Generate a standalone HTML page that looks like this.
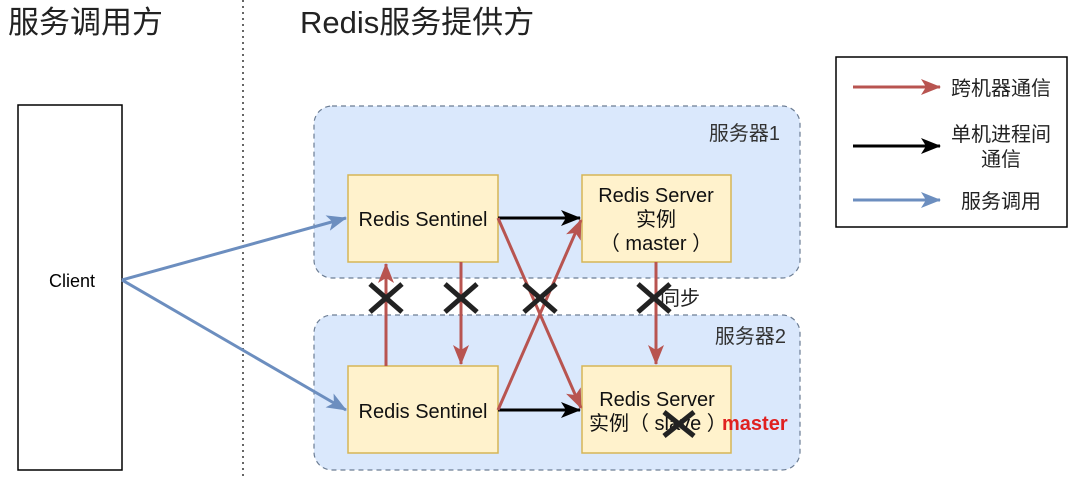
<!DOCTYPE html>
<html><head><meta charset="utf-8"><style>
body{margin:0;width:1080px;height:477px;background:#fff;overflow:hidden}
svg text{font-family:"Liberation Sans","Noto Sans CJK SC",sans-serif}
</style></head><body>
<svg width="1080" height="477" viewBox="0 0 1080 477">
<defs>
<marker id="k" markerWidth="20" markerHeight="20" refX="19" refY="10" orient="auto" markerUnits="userSpaceOnUse" viewBox="0 0 20 20"><path d="M0,2 L20,10 L0,18 L5,10z" fill="#000"/></marker>
<marker id="b" markerWidth="20" markerHeight="20" refX="19" refY="10" orient="auto" markerUnits="userSpaceOnUse" viewBox="0 0 20 20"><path d="M0,2 L20,10 L0,18 L5,10z" fill="#6c8ebf"/></marker>
<marker id="r2" markerWidth="20" markerHeight="20" refX="19" refY="10" orient="auto" markerUnits="userSpaceOnUse" viewBox="0 0 20 20"><path d="M0,2 L20,10 L0,18 L5,10z" fill="#b85450"/></marker>
</defs>
<text x="8" y="33" font-size="31" fill="#222">服务调用方</text>
<text x="300" y="33" font-size="31" fill="#222">Redis服务提供方</text>
<line x1="243" y1="0" x2="243" y2="477" stroke="#333" stroke-width="1.5" stroke-dasharray="2,4"/>
<rect x="18" y="105" width="104" height="365" fill="#fff" stroke="#000" stroke-width="1.5"/>
<text x="72" y="287" font-size="18" text-anchor="middle">Client</text>
<rect x="314" y="106" width="486" height="172" rx="18" fill="#dae8fc" stroke="#6c7d94" stroke-dasharray="5,4" stroke-width="1.2"/>
<rect x="314" y="315" width="486" height="155" rx="18" fill="#dae8fc" stroke="#6c7d94" stroke-dasharray="5,4" stroke-width="1.2"/>
<text x="780" y="140" font-size="20" text-anchor="end" fill="#333">服务器1</text>
<text x="786" y="343" font-size="20" text-anchor="end" fill="#333">服务器2</text>
<g fill="#fff2cc" stroke="#d6b656" stroke-width="1.5">
<rect x="348" y="175" width="150" height="87"/><rect x="582" y="175" width="149" height="87"/>
<rect x="348" y="366" width="150" height="87"/><rect x="582" y="366" width="149" height="87"/>
</g>
<g font-size="20" text-anchor="middle" fill="#111">
<text x="423" y="226">Redis Sentinel</text>
<text x="423" y="418">Redis Sentinel</text>
<text x="656" y="202">Redis Server</text>
<text x="656" y="226">实例</text>
<text x="656" y="250">（ master ）</text>
<text x="657" y="406">Redis Server</text>
<text x="589" y="430" text-anchor="start">实例（ slave ）</text>
</g>
<text x="722" y="430" font-size="20" font-weight="bold" fill="#e02020">master</text>
<g stroke="#6c8ebf" stroke-width="3" fill="none">
<line x1="122" y1="280" x2="346" y2="218" marker-end="url(#b)"/>
<line x1="122" y1="280" x2="346" y2="410" marker-end="url(#b)"/>
</g>
<g stroke="#000" stroke-width="3">
<line x1="498" y1="218" x2="580" y2="218" marker-end="url(#k)"/>
<line x1="498" y1="410" x2="580" y2="410" marker-end="url(#k)"/>
</g>
<g stroke="#b85450" stroke-width="3" fill="none">
<line x1="386" y1="366" x2="386" y2="264" marker-end="url(#r2)"/>
<line x1="461" y1="262" x2="461" y2="364" marker-end="url(#r2)"/>
<line x1="656" y1="262" x2="656" y2="364" marker-end="url(#r2)"/>
<line x1="498" y1="218" x2="581" y2="408" marker-end="url(#r2)"/>
<line x1="498" y1="410" x2="581" y2="220" marker-end="url(#r2)"/>
</g>
<g stroke="#222" stroke-width="5">
<path d="M370,284 L402,312 M402,284 L370,312"/>
<path d="M445,284 L477,312 M477,284 L445,312"/>
<path d="M524,284 L556,312 M556,284 L524,312"/>
<path d="M638,284 L670,312 M670,284 L638,312"/>
<path d="M664,412 L694,436 M694,412 L664,436"/>
</g>
<text x="660" y="305" font-size="20" fill="#222">同步</text>
<rect x="836" y="57" width="231" height="170" fill="#fff" stroke="#000" stroke-width="1.5"/>
<line x1="853" y1="87" x2="940" y2="87" stroke="#b85450" stroke-width="3" marker-end="url(#r2)"/>
<line x1="853" y1="146" x2="940" y2="146" stroke="#000" stroke-width="3" marker-end="url(#k)"/>
<line x1="853" y1="200" x2="940" y2="200" stroke="#6c8ebf" stroke-width="3" marker-end="url(#b)"/>
<g font-size="20" text-anchor="middle" fill="#222">
<text x="1001" y="95">跨机器通信</text>
<text x="1001" y="141">单机进程间</text>
<text x="1001" y="166">通信</text>
<text x="1001" y="208">服务调用</text>
</g>
</svg>
</body></html>
